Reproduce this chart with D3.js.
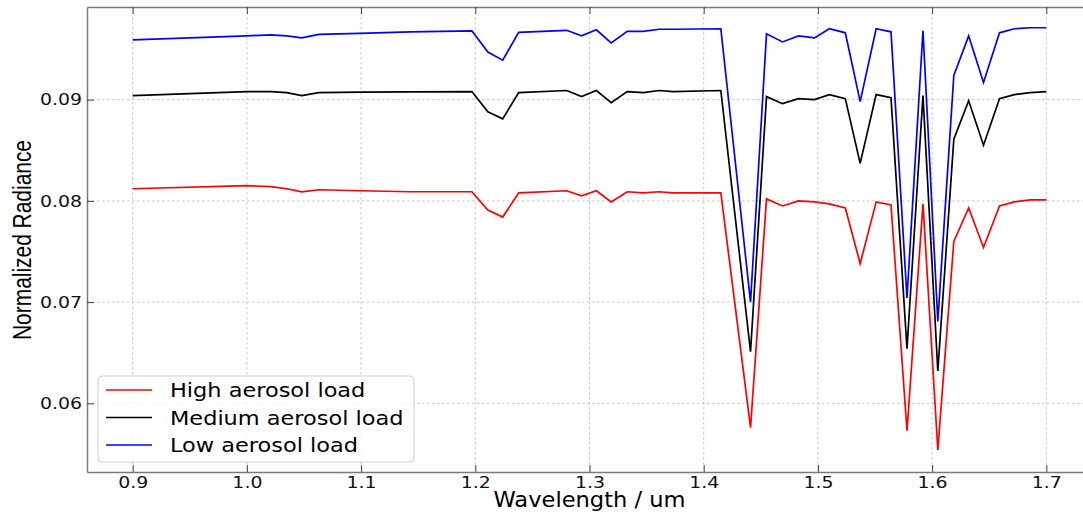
<!DOCTYPE html>
<html>
<head>
<meta charset="utf-8">
<script src="https://d3js.org/d3.v7.min.js"></script>
<style>
  body { margin: 0; background: #fff; }
  svg { display: block; }
  .grid line { stroke: #b8b8b8; stroke-width: 0.8px; stroke-dasharray: 2.5,2.5; }
  .tick text { font-family: 'DejaVu Sans', sans-serif; font-size: 16px; fill: #111; }
</style>
</head>
<body>
<svg width="1083" height="512"></svg>
<script>
// wavelengths (um)
var wavelength = [0.9, 1.0, 1.021, 1.035, 1.048, 1.063, 1.099, 1.143, 1.197, 1.211,
  1.224, 1.238, 1.28, 1.293, 1.306, 1.319, 1.333, 1.347, 1.361, 1.373,
  1.415, 1.441, 1.455, 1.469, 1.483, 1.497, 1.51, 1.524, 1.537, 1.551,
  1.564, 1.578, 1.592, 1.605, 1.619, 1.632, 1.645, 1.659, 1.672, 1.686, 1.7];

var highLoad = [0.0812, 0.0815, 0.0814, 0.0812, 0.0809, 0.0811, 0.0810, 0.0809, 0.0809, 0.0791,
  0.0784, 0.0808, 0.0810, 0.0805, 0.0810, 0.0799, 0.0809, 0.0808, 0.0809, 0.0808,
  0.0808, 0.0576, 0.0802, 0.0795, 0.0800, 0.0799, 0.0797, 0.0793, 0.0738, 0.0799,
  0.0796, 0.0573, 0.0797, 0.0554, 0.0760, 0.0793, 0.0754, 0.0795, 0.0799, 0.0801, 0.0801];

var mediumLoad = [0.0904, 0.0908, 0.0908, 0.0907, 0.0904, 0.0907, 0.09075, 0.09076, 0.0908, 0.0888,
  0.0881, 0.0907, 0.0909, 0.0903, 0.0909, 0.0897, 0.0908, 0.0907, 0.0909, 0.0908,
  0.0909, 0.0651, 0.0903, 0.0896, 0.0901, 0.0900, 0.0905, 0.0901, 0.0837, 0.0905,
  0.0902, 0.0654, 0.0904, 0.0632, 0.0861, 0.0899, 0.0855, 0.0901, 0.0905, 0.0907, 0.0908];

var lowLoad = [0.0959, 0.0963, 0.0964, 0.0963, 0.0961, 0.09645, 0.09655, 0.0967, 0.0968, 0.0947,
  0.0939, 0.09665, 0.09685, 0.0963, 0.0969, 0.0956, 0.09675, 0.09675, 0.09695, 0.09695,
  0.0970, 0.0700, 0.0965, 0.0957, 0.0963, 0.0961, 0.0970, 0.0966, 0.0898, 0.0970,
  0.0967, 0.0704, 0.0968, 0.0681, 0.0924, 0.0963, 0.0917, 0.0966, 0.0970, 0.0971, 0.0971];

var seriesNames = ['High aerosol load', 'Medium aerosol load', 'Low aerosol load'];
var seriesColors = ['#ff0000', '#000000', '#0000ff'];
var seriesValues = [highLoad, mediumLoad, lowLoad];

var xTicks = [0.9, 1.0, 1.1, 1.2, 1.3, 1.4, 1.5, 1.6, 1.7];
var yTicks = [0.06, 0.07, 0.08, 0.09];

var svg = d3.select('svg');
var plotLeft = 87, plotRight = 1092, plotTop = 7, plotBottom = 472;

var x = d3.scaleLinear().domain([0.86, 1.74]).range([plotLeft, plotRight]);
var y = d3.scaleLinear().domain([0.05322, 0.09915]).range([plotBottom, plotTop]);

// the source figure is a bit wider than tall, so text is stretched sideways
function stretch(sel, k) {
  sel.each(function() {
    var w = this.getComputedTextLength();
    d3.select(this).attr('textLength', w * k).attr('lengthAdjust', 'spacingAndGlyphs');
  });
}

// grid
var grid = svg.append('g').attr('class', 'grid');
grid.selectAll('line.v').data(xTicks).enter().append('line')
  .attr('x1', function(d) { return x(d); }).attr('x2', function(d) { return x(d); })
  .attr('y1', plotTop).attr('y2', plotBottom);
grid.selectAll('line.h').data(yTicks).enter().append('line')
  .attr('x1', plotLeft).attr('x2', plotRight)
  .attr('y1', function(d) { return y(d); }).attr('y2', function(d) { return y(d); });

// axes, ticks pointing inward
var xAxis = svg.append('g').attr('transform', 'translate(0,' + plotBottom + ')')
  .call(d3.axisBottom(x).tickValues(xTicks).tickSizeInner(-7).tickSizeOuter(0)
    .tickPadding(5).tickFormat(d3.format('.1f')));
var xTop = svg.append('g').attr('transform', 'translate(0,' + plotTop + ')')
  .call(d3.axisTop(x).tickValues(xTicks).tickSizeInner(-7).tickSizeOuter(0).tickFormat(''));
var yAxis = svg.append('g').attr('transform', 'translate(' + plotLeft + ',0)')
  .call(d3.axisLeft(y).tickValues(yTicks).tickSizeInner(-7).tickSizeOuter(0)
    .tickPadding(5).tickFormat(d3.format('.2f')));
[xAxis, xTop, yAxis].forEach(function(g) {
  g.select('.domain').attr('stroke', '#7a7a7a').attr('stroke-width', 1.5);
  g.selectAll('.tick line').attr('stroke', '#444').attr('stroke-width', 1);
  stretch(g.selectAll('.tick text'), 1.18);
});

// lines
var line = d3.line()
  .x(function(d, i) { return x(wavelength[i]); })
  .y(function(d) { return y(d); });

svg.append('g').selectAll('path')
  .data(seriesValues).enter().append('path')
  .attr('d', function(d) { return line(d); })
  .attr('fill', 'none')
  .attr('stroke', function(d, i) { return seriesColors[i]; })
  .attr('stroke-width', 1.7)
  .attr('stroke-linejoin', 'miter');

// axis labels
var xLabel = svg.append('text')
  .attr('x', (plotLeft + plotRight) / 2).attr('y', 507)
  .attr('text-anchor', 'middle')
  .style('font-family', "'DejaVu Sans', sans-serif").style('font-size', '20.5px')
  .text('Wavelength / um');
stretch(xLabel, 1.1);

svg.append('text')
  .attr('transform', 'translate(31,240) rotate(-90)')
  .attr('text-anchor', 'middle')
  .attr('textLength', 200).attr('lengthAdjust', 'spacingAndGlyphs')
  .style('font-family', "'Liberation Sans', sans-serif").style('font-size', '25px')
  .text('Normalized Radiance');

// legend
var legend = svg.append('g');
legend.append('rect')
  .attr('x', 98).attr('y', 376).attr('width', 316).attr('height', 86)
  .attr('rx', 4).attr('fill', '#fff').attr('fill-opacity', 0.8)
  .attr('stroke', '#d0d0d0').attr('stroke-width', 1);
var rows = legend.selectAll('g.row').data(seriesNames).enter().append('g')
  .attr('transform', function(d, i) { return 'translate(0,' + (390 + i * 27.5) + ')'; });
rows.append('line')
  .attr('x1', 106).attr('x2', 152).attr('y1', 0).attr('y2', 0)
  .attr('stroke', function(d, i) { return seriesColors[i]; }).attr('stroke-width', 1.7);
var legendText = rows.append('text')
  .attr('x', 170).attr('y', 7)
  .style('font-family', "'DejaVu Sans', sans-serif").style('font-size', '19.5px')
  .text(function(d) { return d; });
stretch(legendText, 1.15);
</script>
</body>
</html>
